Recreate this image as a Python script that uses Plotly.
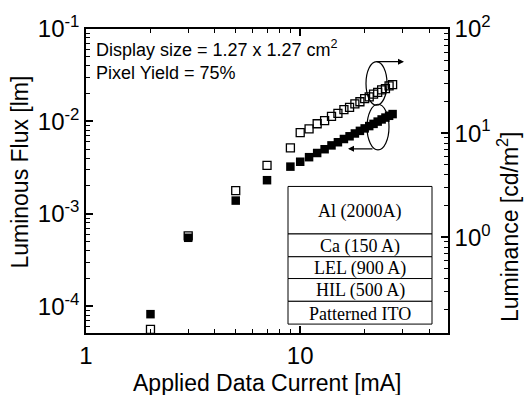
import plotly.graph_objects as go

# ---- data ----
current_ma = [2, 3, 5, 7, 9, 10, 11, 12, 13, 14, 15, 16, 17, 18, 19, 20, 21, 22, 23, 24, 25, 26, 27]
luminous_flux_lm = [8.2e-5, 5.5e-4, 1.39e-3, 2.31e-3, 3.24e-3, 3.66e-3, 4.10e-3, 4.55e-3, 5.0e-3, 5.5e-3,
                    5.95e-3, 6.45e-3, 6.9e-3, 7.4e-3, 7.9e-3, 8.4e-3, 8.9e-3, 9.4e-3, 9.95e-3, 1.05e-2,
                    1.10e-2, 1.15e-2, 1.20e-2]
luminance_cdm2 = [0.13, 1.03, 2.8, 4.9, 7.2, 10.1, 11.0, 12.3, 13.2, 14.5, 15.5, 16.8, 17.7, 19.1, 20.0,
                  21.4, 22.3, 23.7, 24.6, 26.0, 26.8, 28.4, 29.2]

x_ticks = [1, 10]
x_ticktext = ["1", "10"]
y_ticks = [1e-4, 1e-3, 1e-2, 1e-1]
y_ticktext = ["10<sup>-4</sup>", "10<sup>-3</sup>", "10<sup>-2</sup>", "10<sup>-1</sup>"]
y2_ticks = [1, 10, 100]
y2_ticktext = ["10<sup>0</sup>", "10<sup>1</sup>", "10<sup>2</sup>"]

layers = ["Al (2000A)", "Ca (150 A)", "LEL (900 A)", "HIL (500 A)", "Patterned ITO"]
layer_edges_px = [185, 233, 256, 278, 301, 324]  # inset rows (pixel y)

x_minor = [m * d for d in (1, 10) for m in range(2, 10) if m * d < 50]
y_minor = [m * d for d in (1e-5, 1e-4, 1e-3, 1e-2) for m in range(2, 10)]
y2_minor = [m * d for d in (0.1, 1, 10) for m in range(2, 10)]

W, H = 524, 395
L, R, T, B = 86, 448, 26, 333

X_RANGE = [0, 1.69]
Y_RANGE = [-4.29, -1]
Y2_RANGE = [-0.92, 2]


def px(x):
    return (x - L) / (R - L)


def py(y):
    return (B - y) / (B - T)


FONT = "Liberation Sans, Arial, sans-serif"
SERIF = "Liberation Serif, Times New Roman, serif"

fig = go.Figure()
fig.add_trace(go.Scatter(
    x=current_ma, y=luminance_cdm2, yaxis="y2", mode="markers",
    marker=dict(symbol="square-open", size=8, color="black", line=dict(width=1.3, color="black")),
    showlegend=False))
fig.add_trace(go.Scatter(
    x=current_ma, y=luminous_flux_lm, mode="markers",
    marker=dict(symbol="square", size=8.5, color="black"),
    showlegend=False))
# empty traces so the minor-tick overlay axes are drawn
fig.add_trace(go.Scatter(x=[None], y=[None], xaxis="x2", yaxis="y3", showlegend=False, hoverinfo="skip"))
fig.add_trace(go.Scatter(x=[None], y=[None], xaxis="x2", yaxis="y4", showlegend=False, hoverinfo="skip"))

axis_common = dict(showgrid=False, zeroline=False, showline=True, linecolor="black", linewidth=1.5,
                   ticks="inside", ticklen=7, tickwidth=1.5, tickcolor="black",
                   tickfont=dict(family=FONT, size=24, color="black"))
minor_axis = dict(showgrid=False, zeroline=False, showline=False, ticks="inside", ticklen=4, tickwidth=1.2,
                  tickcolor="black", showticklabels=False, tickmode="array")

fig.update_layout(
    width=W, height=H,
    margin=dict(l=L, r=W - R, t=T, b=H - B),
    paper_bgcolor="white", plot_bgcolor="white",
    xaxis=dict(type="log", range=X_RANGE, tickmode="array", tickvals=x_ticks, ticktext=x_ticktext,
               mirror="ticks", **axis_common),
    yaxis=dict(type="log", range=Y_RANGE, tickmode="array", tickvals=y_ticks, ticktext=y_ticktext,
               **axis_common),
    yaxis2=dict(type="log", range=Y2_RANGE, overlaying="y", side="right", tickmode="array",
                tickvals=y2_ticks, ticktext=y2_ticktext, **axis_common),
    xaxis2=dict(type="log", range=X_RANGE, overlaying="x", anchor="y3", side="bottom", mirror="ticks",
                tickvals=x_minor, **minor_axis),
    yaxis3=dict(type="log", range=Y_RANGE, overlaying="y", anchor="x2", side="left",
                tickvals=y_minor, **minor_axis),
    yaxis4=dict(type="log", range=Y2_RANGE, overlaying="y", anchor="x2", side="right",
                tickvals=y2_minor, **minor_axis),
)

anns = []
# axis titles
anns.append(dict(text="Applied Data Current [mA]", x=0.5, y=py(383), xref="paper", yref="paper",
                 showarrow=False, font=dict(family=FONT, size=23, color="black"), xanchor="center", yanchor="middle"))
anns.append(dict(text="Luminous Flux [lm]", x=px(20), y=py(171), xref="paper", yref="paper", textangle=-90,
                 showarrow=False, font=dict(family=FONT, size=23, color="black"), xanchor="center", yanchor="middle"))
anns.append(dict(text="Luminance [cd/m<sup>2</sup>]", x=px(508), y=py(226), xref="paper", yref="paper",
                 textangle=-90, showarrow=False, font=dict(family=FONT, size=23, color="black"),
                 xanchor="center", yanchor="middle"))
# info text
anns.append(dict(text="Display size = 1.27 x 1.27 cm<sup>2</sup>", x=px(94), y=py(46), xref="paper", yref="paper",
                 showarrow=False, font=dict(family=FONT, size=18, color="black"), xanchor="left", yanchor="middle"))
anns.append(dict(text="Pixel Yield = 75%", x=px(94), y=py(70), xref="paper", yref="paper",
                 showarrow=False, font=dict(family=FONT, size=18, color="black"), xanchor="left", yanchor="middle"))
# arrows from ellipses
anns.append(dict(x=px(404), y=py(59), xref="paper", yref="paper", ax=375 - 404, ay=0, text="",
                 showarrow=True, arrowhead=2, arrowsize=1, arrowwidth=1.2, arrowcolor="black"))
anns.append(dict(x=px(348), y=py(147), xref="paper", yref="paper", ax=374 - 348, ay=0, text="",
                 showarrow=True, arrowhead=2, arrowsize=1, arrowwidth=1.2, arrowcolor="black"))

# inset layer stack
shapes = []
ix0, ix1 = 288, 432
for i, name in enumerate(layers):
    y0p, y1p = layer_edges_px[i], layer_edges_px[i + 1]
    shapes.append(dict(type="rect", xref="paper", yref="paper", x0=px(ix0), x1=px(ix1), y0=py(y1p), y1=py(y0p),
                       line=dict(color="black", width=1), fillcolor="white", layer="above"))
    anns.append(dict(text=name, x=px((ix0 + ix1) / 2), y=py((y0p + y1p) / 2 + 1), xref="paper", yref="paper",
                     showarrow=False, font=dict(family=SERIF, size=18, color="black"),
                     xanchor="center", yanchor="middle"))
# ellipses
shapes.append(dict(type="circle", xref="paper", yref="paper", x0=px(366), x1=px(387), y0=py(103), y1=py(59),
                   line=dict(color="black", width=1.2), layer="above"))
shapes.append(dict(type="circle", xref="paper", yref="paper", x0=px(367), x1=px(389), y0=py(148), y1=py(102),
                   line=dict(color="black", width=1.2), layer="above"))

fig.update_layout(annotations=anns, shapes=shapes)
fig.write_html("out.html")
